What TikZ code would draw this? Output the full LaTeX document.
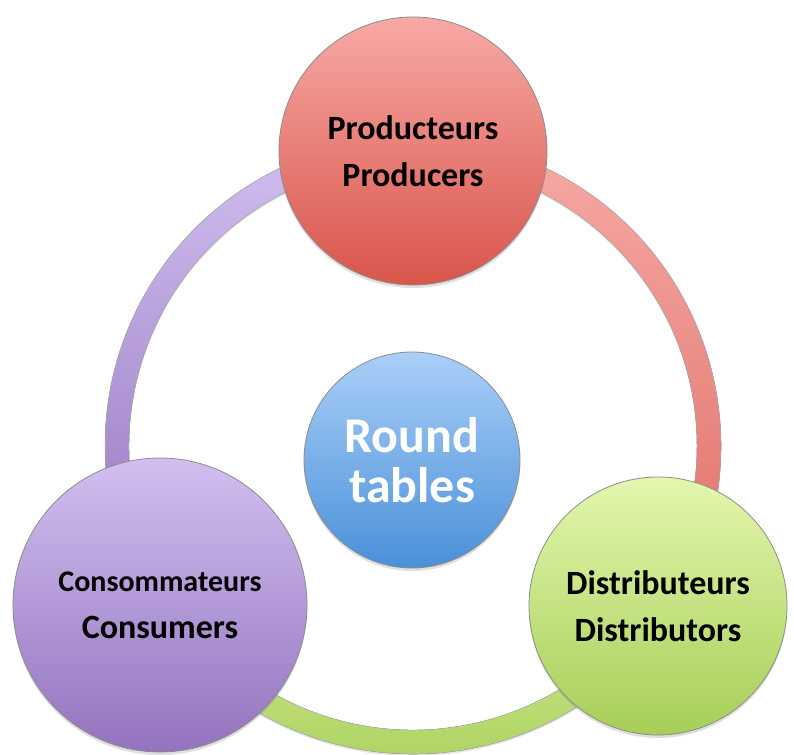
\documentclass[tikz,border=0pt]{standalone}
\usepackage{fontspec}
\setmainfont{Carlito}
\usetikzlibrary{shadows}

\definecolor{prodtop}{HTML}{F7A9A5}
\definecolor{prodbot}{HTML}{D9554B}
\definecolor{constop}{HTML}{D2BFF0}
\definecolor{consbot}{HTML}{9373BE}
\definecolor{disttop}{HTML}{E3F7AE}
\definecolor{distbot}{HTML}{A6CE57}
\definecolor{roundtop}{HTML}{AACFF8}
\definecolor{roundbot}{HTML}{4A90D9}
\definecolor{rimgray}{HTML}{8C8C8C}

\tikzstyle{actor}=[
    circle,
    inner sep=0pt,
    align=center,
    draw=rimgray,
    line width=0.8pt,
    text=black,
    font=\bfseries\fontsize{34}{47}\selectfont,
    drop shadow={shadow xshift=0pt,shadow yshift=-3pt,opacity=0.25}
]
\tikzstyle{hub}=[
    actor,
    text=white,
    font=\bfseries\fontsize{50}{50}\selectfont
]
\tikzstyle{band}=[
    draw=rimgray!70,
    line width=0.5pt,
    drop shadow={shadow xshift=0pt,shadow yshift=-2pt,opacity=0.2}
]

\begin{document}
\begin{tikzpicture}[x=1pt,y=1pt]
    \useasboundingbox (0,0) rectangle (794,754);
    \coordinate (ring) at (413,308);

    % RING
    \begin{scope}[shift={(ring)}]
        \fill[band, top color=constop, bottom color=consbot]
            (90:308) arc[start angle=90, end angle=213, radius=308]
            -- (213:284) arc[start angle=213, end angle=90, radius=284] -- cycle;
        \fill[band, top color=prodtop, bottom color=prodbot!85]
            (-34:308) arc[start angle=-34, end angle=90, radius=308]
            -- (90:284) arc[start angle=90, end angle=-34, radius=284] -- cycle;
        \fill[band, top color=disttop!70!distbot, bottom color=distbot]
            (212:308) arc[start angle=212, end angle=328, radius=308]
            -- (328:284) arc[start angle=328, end angle=212, radius=284] -- cycle;
    \end{scope}

    % ACTORS
    \node (prod) [actor, minimum size=268pt, top color=prodtop, bottom color=prodbot]
        at (413,603) {Producteurs\\Producers};
    \node (cons) [actor, minimum size=294pt, top color=constop, bottom color=consbot]
        at (160,149) {{\fontsize{30}{47}\selectfont Consommateurs}\\Consumers};
    \node (dist) [actor, minimum size=258pt, top color=disttop, bottom color=distbot]
        at (658,148) {Distributeurs\\Distributors};

    % CENTRE
    \node (round) [hub, minimum size=216pt, top color=roundtop, bottom color=roundbot]
        at (412,294) {Round\\tables};
\end{tikzpicture}
\end{document}
